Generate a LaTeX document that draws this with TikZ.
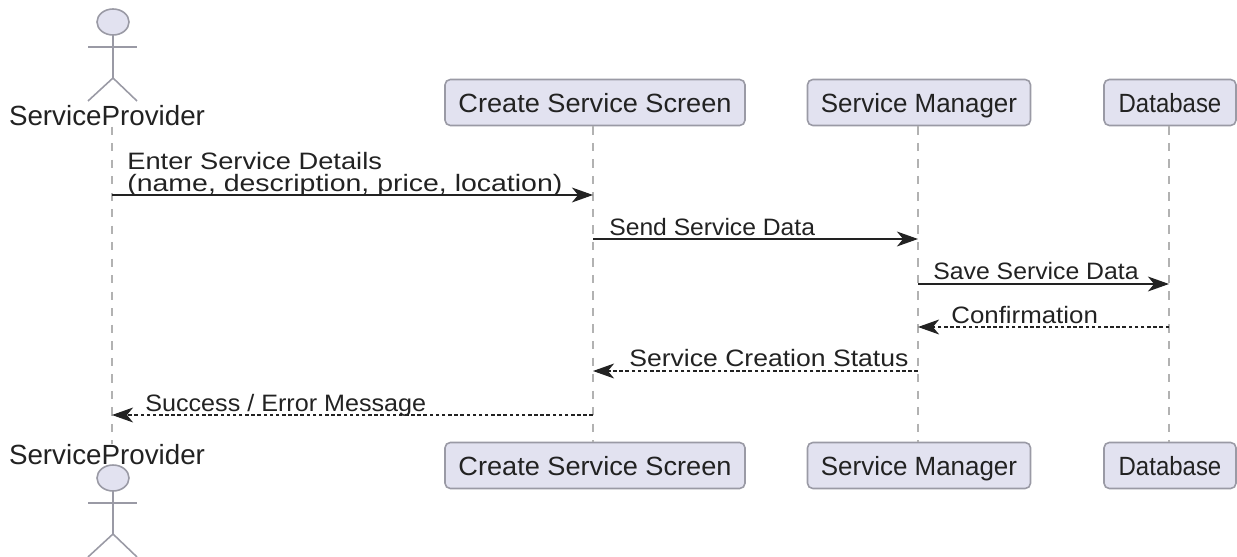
\documentclass[tikz,border=0pt]{standalone}
\usepackage{fontspec}
\setmainfont{Liberation Sans}
\usetikzlibrary{arrows.meta,shapes.geometric}
\definecolor{partfill}{HTML}{E2E2F0}
\definecolor{partline}{HTML}{9A9AA5}
\definecolor{inkdark}{HTML}{222222}
\newcommand{\stretchtext}[2]{\scalebox{#1}[1]{#2}}
\tikzset{
  part/.style={draw=partline,fill=partfill,rounded corners=3pt,line width=0.9pt,minimum height=0.92cm,inner sep=0,text=inkdark,text height=14pt,text depth=3pt,font=\fontsize{15}{18}\selectfont},
  actorname/.style={inner sep=0,text=inkdark,font=\fontsize{15.8}{18}\selectfont},
  life/.style={draw=gray!60,dash pattern=on 4.7pt off 4.7pt,line width=0.8pt},
  msg/.style={draw=inkdark,line width=0.8pt,-{Stealth[length=12pt,width=8.5pt,inset=3.5pt]}},
  reply/.style={msg,dash pattern=on 2pt off 1.5pt},
  msgtext/.style={anchor=base west,inner sep=0,text=inkdark,font=\fontsize{13.5}{15}\selectfont}
}
\begin{document}
\begin{tikzpicture}[x=0.02cm,y=-0.02cm]
    \useasboundingbox (0,0) rectangle (1237,557);

    % participants, top and bottom
    \foreach \n/\x/\w/\f/\t in {s/595/300/1.03/Create Service Screen, m/919/223/0.985/Service Manager, d/1170/132/0.91/Database} {
      \node[part,minimum width=\w*0.02cm](\n top) at (\x, 102.5) {\stretchtext{\f}{\t}};
      \node[part,minimum width=\w*0.02cm](\n bot) at (\x, 465.5) {\stretchtext{\f}{\t}};
    }
    \node[actorname](ptop) at (107, 116) {ServiceProvider};
    \node[actorname](pbot) at (107, 455) {ServiceProvider};

    % stick figures
    \foreach \y/\h in {0/top, 456/bot} {
      \draw[draw=partline,line width=0.9pt] (113, 35+\y) -- (113, 78+\y);
      \draw[draw=partline,line width=0.9pt] (88, 47+\y) -- (137, 47+\y);
      \draw[draw=partline,line width=0.9pt] (88, 101+\y) -- (113, 78+\y) -- (137, 101+\y);
      \node[draw=partline,fill=partfill,ellipse,line width=0.9pt,inner sep=0,minimum width=32*0.02cm,minimum height=26*0.02cm](head\h) at (113, 22+\y) {};
    }

    % message ends
    \foreach \n/\x in {p/112, s/593, m/918, d/1169} {
      \foreach \y in {195, 239, 284, 327, 371, 415} {
        \coordinate (\n\y) at (\x, \y);
      }
    }

    % lifelines
    \draw[life,line width=1.1pt] (p195 |- ptop.south) -- (p195 |- pbot.north);
    \draw[life,line width=1.1pt] (s195 |- stop.south) -- (s195 |- sbot.north);
    \draw[life] (m195 |- mtop.south) -- (m195 |- mbot.north);
    \draw[life] (d195 |- dtop.south) -- (d195 |- dbot.north);

    \draw[msg] (p195) -- (s195);
    \draw[msg] (s239) -- (m239);
    \draw[msg] (m284) -- (d284);
    \draw[reply] (d327) -- (m327);
    \draw[reply] (m371) -- (s371);
    \draw[reply] (s415) -- (p415);

    \node[msgtext](t1) at (127, 170) {\stretchtext{1.15}{Enter Service Details}};
    \node[msgtext](t2) at (127, 192) {\stretchtext{1.2}{(name, description, price, location)}};
    \node[msgtext](t3) at (609, 235.5) {\stretchtext{1.04}{Send Service Data}};
    \node[msgtext](t4) at (933, 279) {\stretchtext{1.045}{Save Service Data}};
    \node[msgtext](t5) at (951, 323) {\stretchtext{1.09}{Confirmation}};
    \node[msgtext](t6) at (629, 366.5) {\stretchtext{1.12}{Service Creation Status}};
    \node[msgtext](t7) at (145, 411) {\stretchtext{1.06}{Success / Error Message}};
  \end{tikzpicture}
\end{document}
